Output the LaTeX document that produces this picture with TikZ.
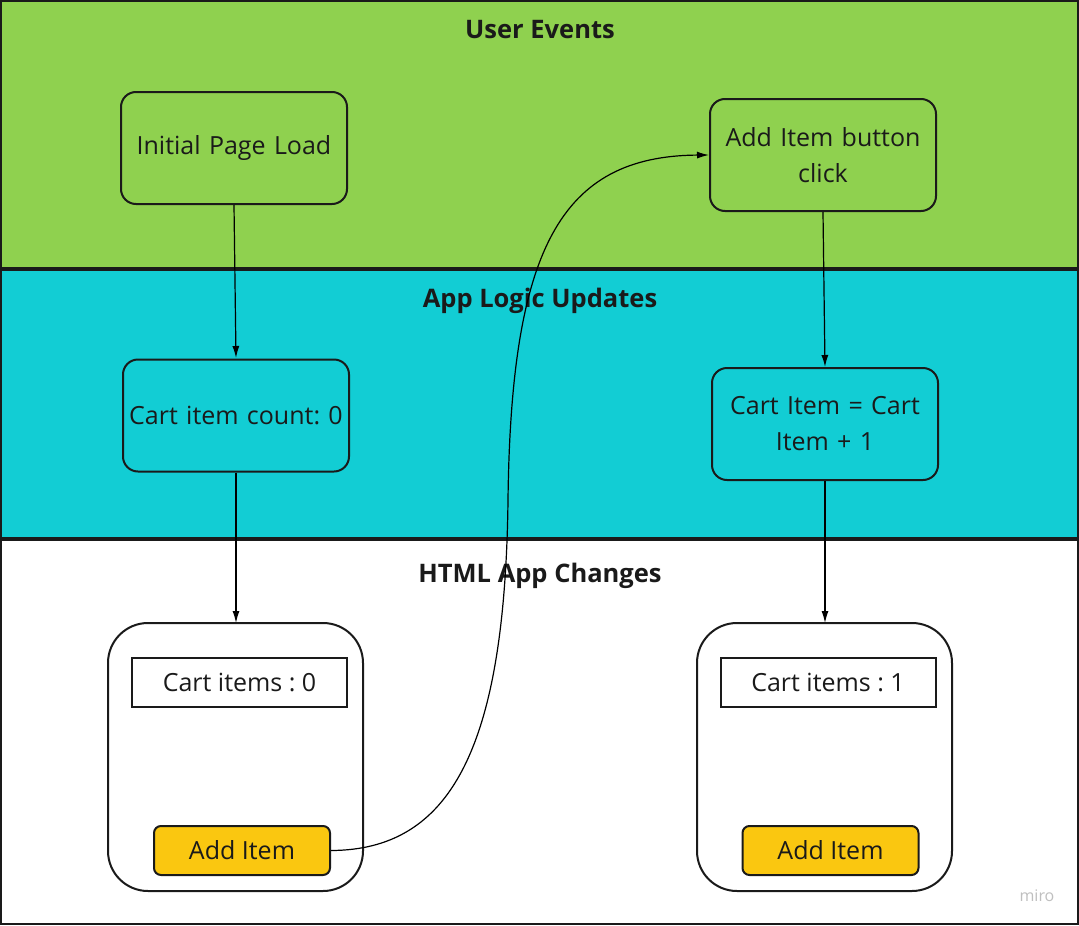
\documentclass[tikz,border=0pt]{standalone}
\usepackage{fontspec}
\setmainfont{Open Sans}
\usetikzlibrary{arrows.meta}
\definecolor{mgreen}{HTML}{8FD14F}
\definecolor{mcyan}{HTML}{12CDD4}
\definecolor{myellow}{HTML}{FAC710}
\definecolor{mline}{HTML}{1A1A1A}
\frenchspacing
\begin{document}
\begin{tikzpicture}[x=1pt,y=-1pt,
  band/.style={draw=mline,line width=2.5pt},
  title/.style={font=\fontsize{25.5}{30}\selectfont\bfseries,text=mline},
  rbox/.style={draw=mline,line width=2pt,rounded corners=15pt,minimum width=226pt,minimum height=112pt,align=center,text width=216pt,font=\fontsize{25}{36}\selectfont,text=mline,inner sep=0pt},
  phone/.style={draw=mline,line width=2pt,rounded corners=40pt,fill=white},
  label/.style={draw=mline,line width=2pt,fill=white,minimum width=215pt,minimum height=49pt,inner sep=0pt,font=\fontsize{25}{30}\selectfont,text=mline},
  btn/.style={draw=mline,line width=2pt,fill=myellow,rounded corners=7pt,minimum width=176pt,minimum height=49pt,inner sep=0pt,font=\fontsize{25}{30}\selectfont,text=mline},
  conn/.style={line width=1.2pt,-{Latex[length=12pt,width=7pt]}}
]
\useasboundingbox (0,0) rectangle (1079,926);
% bands
\draw[band,fill=mgreen] (1,1) rectangle (1078,268);
\draw[band,fill=mcyan] (1,270) rectangle (1078,538);
\draw[band,fill=white] (1,540) rectangle (1078,924);
\node[title] (t1) at (540,30) {User Events};
\node[title] (t2) at (540,301) {App Logic Updates};
\node[title] (t3) at (540,576) {HTML App Changes};
% boxes
\node[rbox] (ipl) at (234,148) {Initial Page Load};
\node[rbox] (aib) at (823,155) {Add Item button\\click};
\node[rbox] (cic) at (236,415.5) {Cart item count: 0};
\node[rbox] (cip) at (825,424) {Cart Item = Cart\\Item + 1};
% phones
\draw[phone] (108,623) rectangle (363,891);
\coordinate (p1top) at (236,623);
\draw[phone] (697,623) rectangle (952,891);
\coordinate (p2top) at (825,623);
\node[label] (l1) at (239.5,682.5) {Cart items : 0};
\node[label] (l2) at (828,682.5) {Cart items : 1};
\node[btn] (b1) at (242,850.5) {Add Item};
\node[btn] (b2) at (830.5,850.5) {Add Item};
% connectors
\draw[conn] (ipl.south) -- (236,358);
\draw[conn] (cic.south) -- (p1top);
\draw[conn] (aib.south) -- (825,367);
\draw[conn] (cip.south) -- (p2top);
\draw[conn] (b1.east) .. controls (450,850) and (505,750) .. (508,500)
  .. controls (511,250) and (560,156) .. (aib.west);
\node[text=black!25,font=\fontsize{16}{18}\selectfont] (miro) at (1037,896) {miro};
\end{tikzpicture}
\end{document}
